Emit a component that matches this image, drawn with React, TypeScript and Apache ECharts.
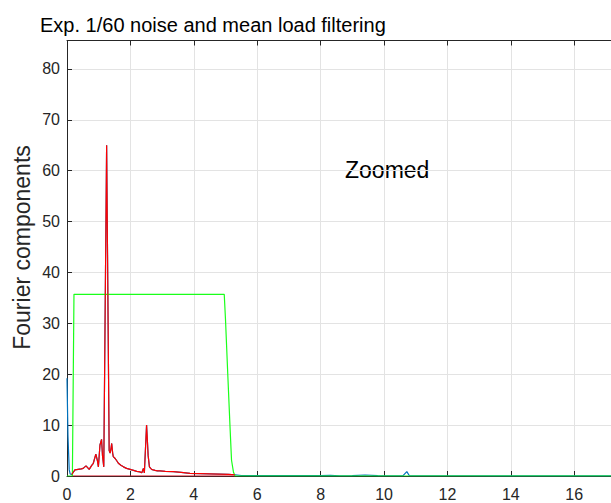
import React, { useEffect, useRef } from "react";
import * as echarts from "echarts";

const titleText = "Exp. 1/60 noise and mean load filtering";
const yAxisTitle = "Fourier components";
const noteText = "Zoomed";

const xTicks = [0, 2, 4, 6, 8, 10, 12, 14, 16];
const yTicks = [0, 10, 20, 30, 40, 50, 60, 70, 80];
const xMax = 17.16;
const yMax = 85.6;

// Filtered spectrum (red)
const redX = [0.15, 0.25, 0.35, 0.45, 0.51, 0.6, 0.7, 0.78, 0.83, 0.91, 0.96, 0.99, 1.04, 1.09, 1.12, 1.16, 1.25, 1.33, 1.36, 1.39, 1.41, 1.44, 1.46, 1.51, 1.57, 1.62, 1.7, 1.78, 1.88, 1.99, 2.1, 2.2, 2.3, 2.36, 2.41, 2.44, 2.51, 2.56, 2.6, 2.64, 2.67, 2.72, 2.78, 2.85, 2.93, 3.1, 3.35, 3.6, 3.88, 4.2, 4.5, 4.8, 5.1, 5.3];
const redY = [0.3, 1.2, 1.3, 1.4, 1.5, 2.0, 1.3, 2.1, 2.5, 4.3, 3.0, 1.8, 6.1, 7.2, 4.0, 1.8, 65.0, 5.0, 4.5, 5.5, 6.4, 4.5, 3.8, 3.5, 3.0, 2.5, 2.1, 1.8, 1.5, 1.3, 1.1, 0.9, 0.8, 0.65, 1.5, 0.6, 10.0, 4.0, 1.8, 1.5, 1.3, 1.2, 1.1, 1.0, 1.0, 0.9, 0.85, 0.7, 0.5, 0.45, 0.4, 0.35, 0.3, 0.25];
const redBaseX = [0.15, 5.3];
const redBaseY = [0, 0];

// Raw spectrum (blue)
const blueHeadX = [0, 0.03, 0.07, 0.1];
const blueHeadY = [19.2, 8.0, 1.2, 0.4];
const blueTailX = [5.5, 6, 6.5, 7, 7.5, 8, 8.3, 8.6, 9, 9.4, 9.8, 10.3, 10.6, 10.72, 10.8, 11.5, 12.5, 13.5, 14.5, 15.5, 16.5, 17.16];
const blueTailY = [0.1, 0.08, 0.1, 0.08, 0.08, 0.06, 0.12, 0.05, 0.06, 0.2, 0.06, 0.05, 0.06, 0.85, 0.05, 0.05, 0.05, 0.04, 0.04, 0.03, 0.03, 0.03];

// Filter window (green)
const greenX = [0, 0.17, 0.22, 4.96, 5.0, 5.07, 5.14, 5.19, 5.25, 5.3, 17.16];
const greenY = [0, 0, 35.7, 35.7, 30.7, 20.2, 10.0, 3.1, 0.8, 0, 0];

const zip = (xs: number[], ys: number[]) => xs.map((x, i) => [x, ys[i]]);

const FONT = "'Liberation Sans', Arial, Helvetica, sans-serif";
const AXIS_COLOR = "#262626";
const GRID_COLOR = "#e3e3e3";

export default function App() {
  const ref = useRef<HTMLDivElement>(null);

  useEffect(() => {
    if (!ref.current) return;
    const chart = echarts.init(ref.current, undefined, { renderer: "svg" });
    const xMin = xTicks[0];
    const xStep = xTicks[1] - xTicks[0];
    const yMin = yTicks[0];
    const yStep = yTicks[1] - yTicks[0];
    const blueData = [...zip(blueHeadX, blueHeadY), ...zip(redX, redY), ...zip(blueTailX, blueTailY)];

    const axisCommon = {
      type: "value" as const,
      axisLine: { show: true, lineStyle: { color: AXIS_COLOR, width: 1 } },
      axisTick: { show: true, inside: true, length: 5, lineStyle: { color: AXIS_COLOR } },
    };

    chart.setOption({
      animation: false,
      backgroundColor: "#ffffff",
      grid: { left: 67, top: 40.5, right: 0, height: 435.5, containLabel: false },
      xAxis: [
        {
          ...axisCommon,
          position: "bottom",
          min: xMin,
          max: xMax,
          interval: xStep,
          axisLabel: { show: true, margin: 10, color: AXIS_COLOR, fontSize: 16, fontFamily: FONT, showMaxLabel: false },
          splitLine: { show: true, lineStyle: { color: GRID_COLOR, width: 1 } },
        },
        {
          ...axisCommon,
          position: "top",
          min: xMin,
          max: xMax,
          interval: xStep,
          axisLabel: { show: false },
          splitLine: { show: false },
        },
      ],
      yAxis: [
        {
          ...axisCommon,
          position: "left",
          min: yMin,
          max: yMax,
          interval: yStep,
          axisLabel: { show: true, margin: 7, color: AXIS_COLOR, fontSize: 16, fontFamily: FONT, showMaxLabel: false },
          splitLine: { show: true, lineStyle: { color: GRID_COLOR, width: 1 } },
        },
      ],
      series: [
        {
          type: "line",
          data: blueData,
          showSymbol: false,
          lineStyle: { color: "#0072BD", width: 1.2 },
          z: 2,
        },
        {
          type: "line",
          data: zip(redBaseX, redBaseY),
          showSymbol: false,
          lineStyle: { color: "#d01020", width: 1.2 },
          z: 3,
        },
        {
          type: "line",
          data: zip(greenX, greenY),
          showSymbol: false,
          lineStyle: { color: "#1aff1a", width: 1.2 },
          z: 3,
        },
        {
          type: "line",
          data: zip(redX, redY),
          showSymbol: false,
          lineStyle: { color: "#ff0000", width: 1.2 },
          z: 4,
        },
      ],
      graphic: [
        {
          type: "text",
          x: 40,
          y: 25,
          style: { text: titleText, fill: "#000000", font: `20px ${FONT}`, textAlign: "left", textVerticalAlign: "middle" },
        },
        {
          type: "text",
          x: 22,
          y: 247.5,
          rotation: Math.PI / 2,
          style: { text: yAxisTitle, fill: AXIS_COLOR, font: `23px ${FONT}`, textAlign: "center", textVerticalAlign: "middle" },
        },
        {
          type: "text",
          x: 345,
          y: 170.3,
          style: { text: noteText, fill: "#000000", font: `23px ${FONT}`, textAlign: "left", textVerticalAlign: "middle" },
        },
      ],
    });
    return () => chart.dispose();
  }, []);

  return (
    <div
      ref={ref}
      style={{ position: "absolute", left: 0, top: 0, width: 611, height: 503, overflow: "hidden", background: "#fff" }}
    />
  );
}
